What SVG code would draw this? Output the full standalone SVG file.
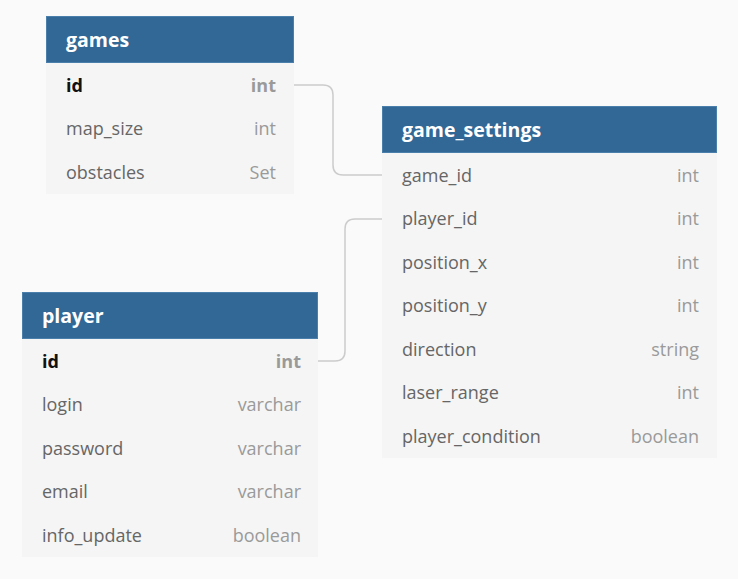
<svg xmlns="http://www.w3.org/2000/svg" width="738" height="579" viewBox="0 0 738 579">
<style>
.hdr{fill:#316896;stroke:#4a7eab;stroke-width:1}
.body{fill:#f5f5f5}
.title{font-family:"Open Sans","Liberation Sans",sans-serif;font-weight:700;font-size:19.5px;fill:#ffffff}
.fn{font-family:"Open Sans","Liberation Sans",sans-serif;font-size:18px;fill:#666666}
.ft{font-family:"Open Sans","Liberation Sans",sans-serif;font-size:18px;fill:#9a9a9a;text-anchor:end}
.pk{font-weight:700;fill:#111111}
.pkt{font-weight:700;fill:#9a9a9a}
.conn{fill:none;stroke:#cccccc;stroke-width:1.5}
</style>
<rect x="0" y="0" width="738" height="579" fill="#fafafa"/>
<g id="connectors">
<path class="conn" d="M294,85 H323 Q333,85 333,95 V165 Q333,175 343,175 H382"/>
<path class="conn" d="M318,361 H335 Q345,361 345,351 V229 Q345,219 355,219 H382"/>
</g>
<g id="games">
<rect class="body" x="46" y="63" width="248" height="131"/>
<rect class="hdr" x="46.5" y="16.5" width="247" height="46"/>
<text class="title" x="66" y="47">games</text>
<text class="fn pk" x="66" y="91.5">id</text><text class="ft pkt" x="276" y="91.5">int</text>
<text class="fn" x="66" y="135">map_size</text><text class="ft" x="276" y="135">int</text>
<text class="fn" x="66" y="178.5">obstacles</text><text class="ft" x="276" y="178.5">Set</text>
</g>
<g id="game_settings">
<rect class="body" x="382" y="153" width="335" height="305"/>
<rect class="hdr" x="382.5" y="106.5" width="334" height="46"/>
<text class="title" x="402" y="137">game_settings</text>
<text class="fn" x="402" y="181.5">game_id</text><text class="ft" x="699" y="181.5">int</text>
<text class="fn" x="402" y="225">player_id</text><text class="ft" x="699" y="225">int</text>
<text class="fn" x="402" y="268.5">position_x</text><text class="ft" x="699" y="268.5">int</text>
<text class="fn" x="402" y="312">position_y</text><text class="ft" x="699" y="312">int</text>
<text class="fn" x="402" y="355.5">direction</text><text class="ft" x="699" y="355.5">string</text>
<text class="fn" x="402" y="399">laser_range</text><text class="ft" x="699" y="399">int</text>
<text class="fn" x="402" y="442.5">player_condition</text><text class="ft" x="699" y="442.5">boolean</text>
</g>
<g id="player">
<rect class="body" x="22" y="339" width="296" height="218"/>
<rect class="hdr" x="22.5" y="292.5" width="295" height="46"/>
<text class="title" x="42" y="323">player</text>
<text class="fn pk" x="42" y="367.5">id</text><text class="ft pkt" x="301" y="367.5">int</text>
<text class="fn" x="42" y="411">login</text><text class="ft" x="301" y="411">varchar</text>
<text class="fn" x="42" y="454.5">password</text><text class="ft" x="301" y="454.5">varchar</text>
<text class="fn" x="42" y="498">email</text><text class="ft" x="301" y="498">varchar</text>
<text class="fn" x="42" y="541.5">info_update</text><text class="ft" x="301" y="541.5">boolean</text>
</g>
</svg>
